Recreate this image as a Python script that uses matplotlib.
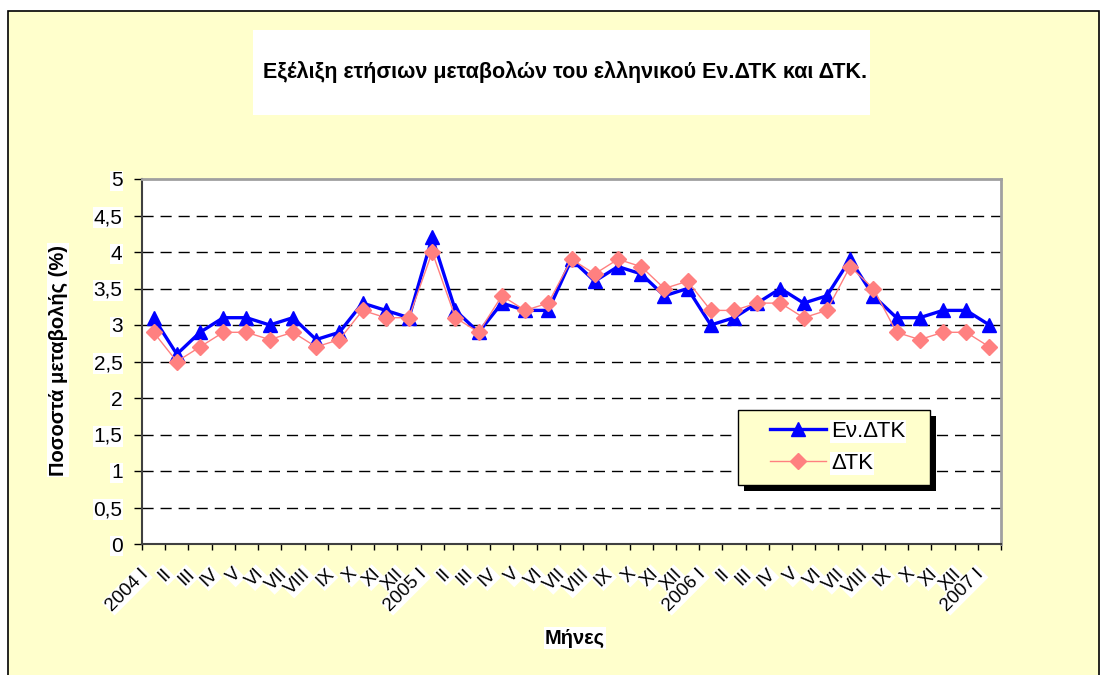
import matplotlib
matplotlib.use("Agg")
import matplotlib.pyplot as plt
from matplotlib.patches import Rectangle
from matplotlib.transforms import ScaledTranslation
import numpy as np

plt.rcParams['font.family'] = ['Liberation Sans', 'DejaVu Sans']

months = ["I", "II", "III", "IV", "V", "VI", "VII", "VIII", "IX", "X", "XI", "XII"]
tick_labels = (["2004 I"] + months[1:] + ["2005 I"] + months[1:] +
               ["2006 I"] + months[1:] + ["2007 I"])

ev_dtk = [3.1, 2.6, 2.9, 3.1, 3.1, 3.0, 3.1, 2.8, 2.9, 3.3, 3.2, 3.1,
          4.2, 3.2, 2.9, 3.3, 3.2, 3.2, 3.9, 3.6, 3.8, 3.7, 3.4, 3.5,
          3.0, 3.1, 3.3, 3.5, 3.3, 3.4, 3.9, 3.4, 3.1, 3.1, 3.2, 3.2,
          3.0]
dtk = [2.9, 2.5, 2.7, 2.9, 2.9, 2.8, 2.9, 2.7, 2.8, 3.2, 3.1, 3.1,
       4.0, 3.1, 2.9, 3.4, 3.2, 3.3, 3.9, 3.7, 3.9, 3.8, 3.5, 3.6,
       3.2, 3.2, 3.3, 3.3, 3.1, 3.2, 3.8, 3.5, 2.9, 2.8, 2.9, 2.9,
       2.7]
y_ticks = [0, 0.5, 1, 1.5, 2, 2.5, 3, 3.5, 4, 4.5, 5]
y_tick_labels = ["0", "0,5", "1", "1,5", "2", "2,5", "3", "3,5", "4", "4,5", "5"]

W, H = 1101, 675
fig = plt.figure(figsize=(W / 100, H / 100), dpi=100)
fig.patch.set_facecolor('white')

def fx(px):
    return px / W

def fy(py):
    return 1 - py / H

# outer chart area
fig.patches.append(Rectangle((fx(8), fy(690)), fx(1099) - fx(8), fy(11) - fy(690),
                             transform=fig.transFigure, facecolor='#FFFFCC',
                             edgecolor='black', linewidth=1.2, zorder=-3))
# title box
fig.patches.append(Rectangle((fx(253), fy(115)), fx(870) - fx(253), fy(30) - fy(115),
                             transform=fig.transFigure, facecolor='white',
                             edgecolor='none', zorder=-2))
fig.text(fx(565), fy(72), "Εξέλιξη ετήσιων μεταβολών του ελληνικού Εν.ΔΤΚ και ΔΤΚ.",
         ha='center', va='center', fontsize=15.5, fontweight='bold', zorder=2)

ax = fig.add_axes([fx(142), fy(544), fx(1001) - fx(142), fy(179) - fy(544)])
ax.set_facecolor('white')
x = np.arange(len(tick_labels))

ax.plot(x, ev_dtk, color='#0000FF', linewidth=2.4, marker='^', markersize=10.5,
        markeredgecolor='#0000FF', label="Εν.ΔΤΚ", zorder=3, clip_on=False)
ax.plot(x, dtk, color='#FF8080', linewidth=1.0, marker='D', markersize=8.5,
        markeredgecolor='#FF8080', label="ΔΤΚ", zorder=4, clip_on=False)

ax.set_xlim(-0.5, len(tick_labels) - 0.5)
ax.set_ylim(0, 5)
ax.set_yticks(y_ticks)
ax.set_yticklabels(y_tick_labels, fontsize=15)
for yv in y_ticks[1:-1]:
    ax.axhline(yv, color='black', linewidth=1.0, linestyle=(0, (8, 5)), zorder=1)

ax.set_xticks(x)
ax.set_xticklabels(tick_labels, rotation=45, ha='right', va='center',
                   rotation_mode='anchor', fontsize=13.5)
ax.set_xticks(np.arange(-0.5, len(tick_labels), 1), minor=True)
ax.tick_params(axis='x', which='major', length=0, pad=19)
ax.tick_params(axis='x', which='minor', length=4.5, width=1, color='black', direction='out')
ax.tick_params(axis='y', length=6, width=1, color='black', direction='out', pad=8)
for lab in ax.get_xticklabels() + ax.get_yticklabels():
    lab.set_bbox(dict(facecolor='white', edgecolor='none', pad=0.5))
shift = ScaledTranslation(-8 / 100, -1 / 100, fig.dpi_scale_trans)
for lab in ax.get_xticklabels():
    lab.set_transform(lab.get_transform() + shift)

for side in ['top', 'right']:
    ax.spines[side].set_color('#A0A0A0')
    ax.spines[side].set_linewidth(2.0)
for side in ['left', 'bottom']:
    ax.spines[side].set_color('#404040')
    ax.spines[side].set_linewidth(1.5)

fig.text(fx(58), fy(360), "Ποσοστά μεταβολής (%)", rotation=90, ha='center', va='center',
         fontsize=14.5, fontweight='bold',
         bbox=dict(facecolor='white', edgecolor='none', pad=1))
fig.text(fx(575), fy(638), "Μήνες", ha='center', va='center', fontsize=14.5,
         fontweight='bold', bbox=dict(facecolor='white', edgecolor='none', pad=1))

# legend box (frame + shadow drawn at fixed pixel positions)
lx0, ly0, lx1, ly1 = 738, 410, 930, 485
ax.add_patch(Rectangle((lx0 + 6, H - ly1 - 6), lx1 - lx0, ly1 - ly0, transform=None,
                       facecolor='black', edgecolor='none', zorder=8, clip_on=False))
ax.add_patch(Rectangle((lx0, H - ly1), lx1 - lx0, ly1 - ly0, transform=None,
                       facecolor='#FFFFCC', edgecolor='black', linewidth=1.0,
                       zorder=9, clip_on=False))

leg = ax.legend(loc='center left', bbox_to_anchor=(fx(770), fy(447.5)),
                bbox_transform=fig.transFigure, frameon=False,
                fontsize=16, handlelength=2.5, borderpad=0, labelspacing=0.5,
                handletextpad=0.25, borderaxespad=0)
leg.set_zorder(10)
for t in leg.get_texts():
    t.set_bbox(dict(facecolor='white', edgecolor='none', pad=0.5))

fig.savefig("out.png", dpi=100)
